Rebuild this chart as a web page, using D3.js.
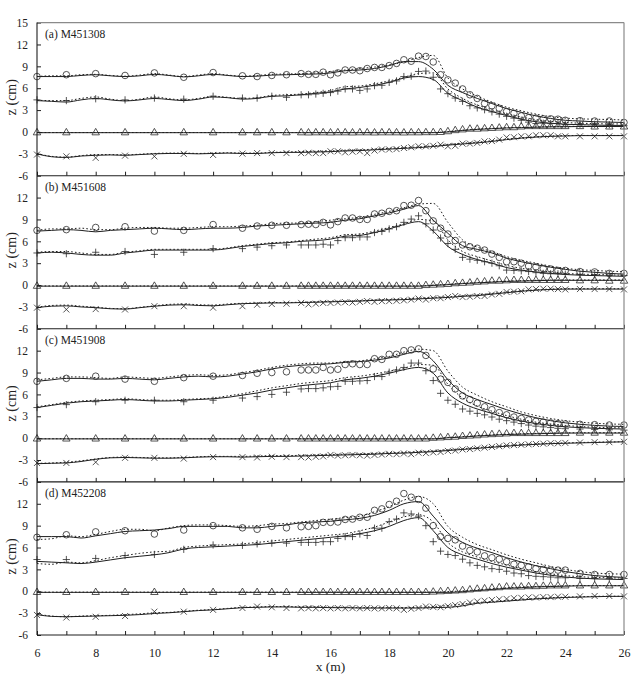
<!DOCTYPE html>
<html><head><meta charset="utf-8">
<script src="https://cdn.jsdelivr.net/npm/d3@7"></script>
<style>html,body{margin:0;padding:0;background:#fff;} svg{display:block;} text{font-family:"Liberation Serif","Times New Roman",serif;fill:#222;}</style>
</head><body><svg id="c" width="633" height="675"></svg>
<script>
// ---------- measurement x positions (m) ----------
const xObs = [6,7,8,9,10,11,12,13,13.5,14,14.5,15,15.25,15.5,15.75,16,16.25,16.5,16.75,17,17.25,17.5,17.75,18,18.25,18.5,18.75,19,19.25,19.5,19.75,20,20.25,20.5,20.75,21,21.25,21.5,21.75,22,22.25,22.5,22.75,23,23.25,23.5,23.75,24,24.5,25,25.5,26];
// ---------- model x positions (m) ----------
const xLine = [6,6.5,7,7.5,8,8.5,9,9.5,10,10.5,11,11.5,12,12.5,13,13.5,14,14.5,15,15.5,16,16.5,17,17.5,18,18.5,19,19.5,20,20.5,21,21.5,22,22.5,23,23.5,24,24.5,25,25.5,26];
const panelLabels = ["(a) M451308","(b) M451608","(c) M451908","(d) M452208"];
const yTicksTop = [-6,-3,0,3,6,9,12,15];
const yTicks = [-6,-3,0,3,6,9,12];
const xTickLabels = [6,8,10,12,14,16,18,20,22,24,26];

// ---------- panel (a) ----------
const a_circ = [7.6,7.85,8.0,7.75,8.1,7.5,8.15, 7.7,7.6,7.75,7.85, 8.0,7.9,7.9,8.2,7.85,8.1,8.5,8.5,8.4,8.7, 8.85,8.85,9.1,9.4,9.9,9.7,10.4,10.35,9.6,7.85, 7.15,6.7,5.9,5.1,4.6,3.9,3.6,3.25,2.8,2.55, 2.2,1.95,1.9,1.8,1.8,1.75,1.6, 1.55,1.5,1.5,1.3];
const a_plus = [4.4,4.3,4.55,4.4,4.65,4.5,4.9, 4.65,4.65,4.9,4.75, 5.1,5.1,5.2,5.3,5.4,5.6,5.9,5.9,5.7,5.9, 6.35,6.4,6.8,7.0,7.6,7.65,8.3,8.35,7.5,5.9, 5.25,4.65,4.2,3.6,3.3,3.05,2.75,2.45,2.15,1.9, 1.6,1.35,1.15,1.2,1.15,1.15,1.0, 1.05,1.05,1.0,0.85];
const a_tri = [-0.1,-0.1,-0.1,-0.1,-0.1,-0.1,-0.1,-0.1,-0.1,-0.1,-0.1, -0.1,-0.12,-0.1,-0.1,-0.12,-0.1,-0.1,-0.12,-0.1,-0.1,-0.12,-0.1,-0.1,-0.1,-0.12,-0.1,-0.1,-0.08,-0.08, -0.05,0.05,0.2,0.3,0.4,0.4,0.45,0.5,0.55,0.6,0.6,0.7,0.75,0.75,0.75,0.75,0.75,0.75, 0.75,0.7,0.7,0.7];
const a_cross = [-3.1,-3.35,-3.55,-3.25,-3.35,-3.0,-3.15, -2.97,-2.9,-2.9,-2.9, -2.9,-2.85,-2.9,-2.9,-2.65,-2.65,-2.8,-2.7,-2.65,-2.9, -2.55,-2.4,-2.4,-2.35,-2.2,-2.1,-1.97,-1.97,-1.9,-1.75, -1.97,-1.9,-1.6,-1.6,-1.5,-1.3,-1.25,-1.05,-0.75,-0.72, -0.6,-0.6,-0.45,-0.45,-0.45,-0.6,-0.6, -0.6,-0.6,-0.6,-0.6];
const a_circS = [7.6,7.6,7.6,7.75,7.85,7.7,7.6,7.7,7.9,7.75,7.55,7.7,7.9,7.75,7.6,7.65,7.8,7.85,7.9,7.95,8.1,8.4,8.5,8.7,9.1,9.65,9.65,8.6,6.4,5.4,4.6,3.9,3.2,2.7,2.2,1.85,1.6,1.5,1.4,1.35,1.3];
const a_circD = [7.6,7.7,7.7,7.85,7.9,7.75,7.65,7.8,8.0,7.8,7.6,7.8,8.0,7.8,7.65,7.75,7.9,7.95,8.0,8.1,8.3,8.5,8.7,8.9,9.2,9.6,10.2,10.5,7.4,5.9,4.9,4.1,3.4,2.9,2.45,2.1,1.9,1.8,1.75,1.7,1.65];
const a_plusS = [4.3,4.2,4.1,4.4,4.6,4.4,4.25,4.4,4.6,4.45,4.3,4.5,4.8,4.7,4.5,4.6,4.9,4.95,5.1,5.3,5.5,5.9,6.1,6.4,6.8,7.4,7.6,7.2,5.3,4.3,3.4,2.8,2.25,1.75,1.4,1.2,1.05,1.0,0.95,0.9,0.9];
const a_plusD = [4.35,4.3,4.3,4.6,4.8,4.5,4.3,4.5,4.8,4.55,4.4,4.6,4.9,4.75,4.6,4.7,5.0,5.1,5.2,5.4,5.7,6.2,6.3,6.6,7.0,7.5,8.0,8.1,5.9,4.6,3.7,3.05,2.5,2.05,1.7,1.45,1.3,1.2,1.15,1.1,1.1];
const a_triS = [-0.1,-0.1,-0.1,-0.1,-0.1,-0.1,-0.1,-0.1,-0.1,-0.1,-0.1,-0.1,-0.1,-0.1,-0.1,-0.1,-0.1,-0.1,-0.1,-0.1,-0.1,-0.1,-0.1,-0.1,-0.1,-0.1,-0.1,-0.1,0.0,0.2,0.35,0.45,0.55,0.6,0.65,0.7,0.72,0.75,0.75,0.75,0.75];
const a_triD = [-0.08,-0.08,-0.08,-0.08,-0.08,-0.08,-0.08,-0.08,-0.08,-0.08,-0.08,-0.08,-0.08,-0.08,-0.08,-0.08,-0.08,-0.08,-0.08,-0.08,-0.08,-0.08,-0.08,-0.08,-0.08,-0.08,-0.08,-0.08,0.05,0.25,0.4,0.5,0.58,0.63,0.68,0.72,0.75,0.78,0.78,0.78,0.78];
const a_crossS = [-3.0,-3.4,-3.5,-3.3,-3.2,-3.15,-3.2,-3.1,-3.0,-2.95,-2.95,-3.0,-2.95,-2.9,-2.95,-2.95,-2.85,-2.8,-2.8,-2.75,-2.7,-2.6,-2.55,-2.45,-2.35,-2.25,-2.15,-2.0,-1.8,-1.65,-1.5,-1.3,-1.05,-0.85,-0.7,-0.6,-0.55,-0.5,-0.5,-0.5,-0.5];
const a_crossD = [-2.95,-3.35,-3.45,-3.25,-3.1,-3.1,-3.15,-3.05,-2.95,-2.9,-2.9,-2.95,-2.9,-2.85,-2.9,-2.9,-2.8,-2.75,-2.7,-2.65,-2.6,-2.5,-2.45,-2.35,-2.25,-2.15,-2.05,-1.9,-1.7,-1.55,-1.4,-1.2,-0.98,-0.8,-0.65,-0.55,-0.5,-0.48,-0.48,-0.48,-0.48];

// ---------- panel (b) ----------
const b_circ = [7.5,7.6,7.9,8.0,7.4,7.5,8.3, 7.8,8.1,8.2,8.2, 8.3,8.35,8.3,8.6,8.25,8.7,9.2,9.2,9.0,9.0, 9.75,9.85,10.1,10.2,10.9,10.95,11.6,10.2,8.8,7.8, 7.0,6.1,5.5,5.25,5.05,4.8,4.25,3.8,3.2,3.2, 3.0,2.6,2.5,2.25,2.2,2.0,2.0, 1.85,1.8,1.6,1.6];
const b_plus = [4.4,4.3,4.5,4.6,4.2,4.5,5.0, 5.0,5.2,5.4,5.5, 5.5,5.5,5.5,5.6,5.5,6.1,6.5,6.5,6.6,6.6, 7.2,7.35,7.7,8.0,8.6,9.05,9.5,8.4,7.55,6.45, 5.7,4.9,3.8,3.55,3.4,3.2,3.0,2.65,2.05,2.0, 1.95,1.85,1.7,1.6,1.55,1.55,1.5, 1.45,1.4,1.35,1.3];
const b_tri = [-0.15,-0.15,-0.15,-0.15,-0.15,-0.15,-0.15,-0.15,-0.15,-0.15,-0.15, -0.15,-0.15,-0.15,-0.15,-0.15,-0.15,-0.15,-0.15,-0.15,-0.15,-0.15,-0.15,-0.15,-0.15,-0.15,-0.15,-0.15, -0.05,0.0,0.05,0.1,0.2,0.25,0.3,0.4,0.45,0.55,0.55,0.6, 0.65,0.65,0.65,0.65,0.65,0.65,0.65,0.65, 0.6,0.6,0.55,0.55];
const b_cross = [-3.1,-3.35,-3.3,-3.35,-2.9,-2.9,-3.1, -2.9,-2.7,-2.6,-2.55, -2.45,-2.65,-2.55,-2.45,-2.45,-2.4,-2.35,-2.4,-2.3,-2.2, -2.3,-2.2,-2.2,-2.15,-2.1,-2.0,-1.85,-2.0,-1.8,-1.8, -1.65,-1.5,-1.65,-1.6,-1.5,-1.5,-1.3,-1.2,-0.95,-0.9, -0.85,-0.6,-0.55,-0.5,-0.5,-0.55,-0.6, -0.55,-0.55,-0.55,-0.6];
const b_circS = [7.4,7.5,7.6,7.5,7.3,7.5,7.6,7.7,7.8,7.7,7.6,7.7,7.8,7.8,7.9,8.1,8.2,8.3,8.4,8.5,8.6,8.9,9.1,9.5,9.9,10.4,10.9,8.9,7.1,5.4,4.9,4.4,3.7,3.2,2.8,2.45,2.15,1.9,1.75,1.6,1.5];
const b_circD = [7.5,7.7,7.7,7.8,7.6,7.6,7.8,7.9,7.9,7.8,7.8,7.9,8.0,8.0,8.1,8.2,8.4,8.5,8.5,8.7,8.9,9.1,9.3,9.7,10.1,10.6,11.1,11.2,8.6,6.2,5.2,4.6,3.9,3.4,3.0,2.6,2.3,2.1,2.0,1.9,1.85];
const b_plusS = [4.4,4.5,4.4,4.2,4.1,4.1,4.4,4.6,4.8,4.8,4.8,4.8,4.8,5.0,5.3,5.5,5.7,5.8,6.0,6.1,6.3,6.7,6.8,7.2,7.7,8.3,8.7,7.4,5.3,4.2,3.5,3.0,2.4,2.05,1.8,1.6,1.45,1.35,1.3,1.25,1.2];
const b_plusD = [4.5,4.6,4.6,4.4,4.2,4.2,4.5,4.7,4.9,4.9,4.9,4.9,4.9,5.1,5.4,5.6,5.8,5.9,6.1,6.3,6.5,6.9,7.0,7.4,7.9,8.4,9.0,8.8,6.2,4.6,3.9,3.3,2.7,2.3,2.0,1.8,1.6,1.5,1.45,1.4,1.35];
const b_triS = [-0.15,-0.15,-0.15,-0.15,-0.15,-0.15,-0.15,-0.15,-0.15,-0.15,-0.15,-0.15,-0.15,-0.15,-0.15,-0.15,-0.15,-0.15,-0.15,-0.15,-0.15,-0.15,-0.15,-0.15,-0.15,-0.15,-0.15,-0.05,0.05,0.2,0.3,0.4,0.5,0.55,0.6,0.65,0.65,0.65,0.65,0.65,0.65];
const b_triD = [-0.12,-0.12,-0.12,-0.12,-0.12,-0.12,-0.12,-0.12,-0.12,-0.12,-0.12,-0.12,-0.12,-0.12,-0.12,-0.12,-0.12,-0.12,-0.12,-0.12,-0.12,-0.12,-0.12,-0.12,-0.12,-0.12,-0.12,0.0,0.1,0.25,0.35,0.45,0.55,0.6,0.65,0.68,0.7,0.7,0.7,0.7,0.7];
const b_crossS = [-3.1,-2.9,-2.85,-3.0,-3.1,-3.25,-3.3,-3.1,-2.9,-2.75,-2.7,-2.8,-2.85,-2.7,-2.55,-2.5,-2.45,-2.45,-2.4,-2.35,-2.3,-2.25,-2.2,-2.1,-2.05,-2.0,-1.9,-1.8,-1.7,-1.55,-1.45,-1.25,-1.05,-0.85,-0.7,-0.6,-0.55,-0.55,-0.55,-0.55,-0.55];
const b_crossD = [-3.05,-2.8,-2.75,-2.9,-3.05,-3.2,-3.25,-3.05,-2.85,-2.65,-2.6,-2.7,-2.75,-2.6,-2.5,-2.45,-2.4,-2.4,-2.35,-2.3,-2.25,-2.2,-2.15,-2.05,-2.0,-1.9,-1.8,-1.7,-1.6,-1.45,-1.35,-1.15,-0.95,-0.78,-0.65,-0.55,-0.5,-0.5,-0.5,-0.5,-0.5];

// ---------- panel (c) ----------
const c_circ = [7.8,8.2,8.5,8.1,7.8,8.3,8.5, 8.6,8.9,9.0,9.1, 9.35,9.35,9.35,9.7,9.35,9.45,10.1,10.2,10.1,10.1, 10.9,10.8,11.5,11.5,12.0,12.1,12.25,11.35,9.5,8.1, 7.65,6.75,5.8,5.3,4.8,4.3,3.9,3.5,3.2,2.9, 2.7,2.5,2.3,2.2,2.1,2.0,1.95, 1.9,1.85,1.8,1.8];
const c_plus = [4.2,4.6,5.0,5.2,5.2,5.0,5.2, 5.5,5.7,6.0,6.3, 6.75,6.8,6.8,6.9,7.05,7.1,7.8,7.8,7.85,7.9, 8.45,8.45,9.05,9.35,9.7,10.3,10.3,9.25,7.9,6.15, 5.2,4.65,4.0,3.7,3.4,3.2,2.9,2.6,2.4,2.2, 2.0,1.8,1.65,1.55,1.45,1.35,1.3, 1.25,1.2,1.15,1.1];
const c_tri = [-0.1,-0.1,-0.1,-0.1,-0.1,-0.1,-0.1,-0.1,-0.1,-0.1,-0.1, -0.1,-0.1,-0.1,-0.1,-0.1,-0.1,-0.1,-0.1,-0.1,-0.1,-0.1,-0.1,-0.1,-0.1,-0.1,-0.1,-0.1,-0.1, 0.0,0.05,0.1,0.15,0.25,0.3,0.35,0.45,0.5,0.55,0.6, 0.65,0.65,0.65,0.65,0.65,0.65,0.65,0.65, 0.7,0.7,0.7,0.7];
const c_cross = [-3.4,-3.4,-3.3,-2.7,-2.7,-2.8,-2.6, -2.6,-2.65,-2.55,-2.6, -2.6,-2.65,-2.55,-2.5,-2.3,-2.4,-2.35,-2.3,-2.35,-2.4, -2.3,-2.25,-2.15,-2.2,-2.1,-2.2,-2.0,-2.05,-1.95,-1.9, -1.75,-1.7,-1.55,-1.5,-1.4,-1.3,-1.2,-1.1,-1.0,-0.95, -0.9,-0.85,-0.8,-0.75,-0.7,-0.7,-0.65, -0.6,-0.55,-0.55,-0.5];
const c_circS = [7.8,8.0,8.2,8.2,8.1,8.1,8.2,8.1,8.0,8.2,8.4,8.5,8.4,8.5,8.8,9.1,9.5,9.8,10.0,10.1,10.2,10.4,10.5,10.7,11.0,11.5,11.9,10.6,8.0,6.2,5.3,4.6,3.9,3.3,2.8,2.4,2.1,1.9,1.75,1.65,1.6];
const c_circD = [8.0,8.2,8.4,8.4,8.3,8.2,8.4,8.3,8.2,8.4,8.6,8.7,8.6,8.7,9.0,9.3,9.7,10.0,10.2,10.3,10.3,10.5,10.6,10.9,11.2,11.8,12.2,12.0,9.2,7.0,5.9,5.0,4.3,3.6,3.1,2.7,2.4,2.2,2.05,1.95,1.9];
const c_plusS = [4.2,4.5,4.8,5.0,5.1,5.2,5.3,5.2,5.1,5.1,5.2,5.3,5.4,5.6,5.9,6.2,6.6,6.9,7.2,7.4,7.6,8.0,8.2,8.5,8.9,9.4,9.7,8.9,6.2,4.8,4.0,3.4,2.8,2.35,2.0,1.75,1.55,1.45,1.35,1.3,1.25];
const c_plusD = [4.3,4.6,4.9,5.1,5.2,5.3,5.4,5.3,5.2,5.2,5.3,5.4,5.5,5.8,6.1,6.5,6.9,7.2,7.5,7.7,7.9,8.3,8.5,8.8,9.2,9.6,10.1,10.0,7.4,5.5,4.4,3.7,3.1,2.6,2.2,1.95,1.75,1.6,1.5,1.45,1.4];
const c_triS = [-0.1,-0.1,-0.1,-0.1,-0.1,-0.1,-0.1,-0.1,-0.1,-0.1,-0.1,-0.1,-0.1,-0.1,-0.1,-0.1,-0.1,-0.1,-0.1,-0.1,-0.1,-0.1,-0.1,-0.1,-0.1,-0.1,-0.1,-0.1,0.05,0.15,0.3,0.4,0.5,0.55,0.6,0.65,0.7,0.7,0.7,0.7,0.7];
const c_triD = [-0.08,-0.08,-0.08,-0.08,-0.08,-0.08,-0.08,-0.08,-0.08,-0.08,-0.08,-0.08,-0.08,-0.08,-0.08,-0.08,-0.08,-0.08,-0.08,-0.08,-0.08,-0.08,-0.08,-0.08,-0.08,-0.08,-0.08,-0.08,0.1,0.22,0.35,0.45,0.55,0.6,0.65,0.7,0.72,0.75,0.75,0.75,0.75];
const c_crossS = [-3.5,-3.45,-3.4,-3.2,-2.9,-2.7,-2.65,-2.7,-2.75,-2.75,-2.7,-2.6,-2.55,-2.55,-2.6,-2.55,-2.5,-2.5,-2.45,-2.4,-2.35,-2.3,-2.25,-2.2,-2.1,-2.05,-1.95,-1.85,-1.7,-1.55,-1.4,-1.25,-1.1,-0.95,-0.85,-0.75,-0.7,-0.65,-0.6,-0.55,-0.5];
const c_crossD = [-3.45,-3.4,-3.3,-3.1,-2.85,-2.65,-2.6,-2.65,-2.7,-2.7,-2.65,-2.55,-2.5,-2.5,-2.5,-2.45,-2.4,-2.4,-2.35,-2.3,-2.25,-2.2,-2.15,-2.1,-2.0,-1.95,-1.85,-1.75,-1.6,-1.45,-1.3,-1.15,-1.0,-0.88,-0.78,-0.7,-0.65,-0.6,-0.55,-0.52,-0.5];

// ---------- panel (d) ----------
const d_circ = [7.4,7.75,8.15,8.3,7.85,8.4,9.0, 8.7,8.5,8.9,8.7, 8.85,8.9,9.0,9.45,9.45,9.5,9.85,9.9,10.15,10.15, 11.1,11.3,11.9,12.35,13.4,12.9,12.6,11.4,9.0,7.5, 7.25,7.05,6.2,5.6,5.4,4.85,4.6,4.4,4.05,3.7, 3.55,3.35,3.1,3.0,2.9,2.9,2.9, 2.45,2.3,2.3,2.3];
const d_plus = [4.35,4.35,4.5,4.9,5.05,5.75,6.35, 6.3,6.5,6.6,6.6, 6.7,6.7,6.7,6.8,6.8,7.25,7.5,7.5,7.85,7.65, 8.65,8.65,9.55,9.9,10.75,10.6,10.3,9.0,6.8,5.5, 5.05,4.9,4.4,3.9,3.55,3.35,3.1,3.0,2.75,2.5, 2.4,2.15,2.05,2.0,1.95,1.85,1.85, 1.75,1.75,1.75,1.75];
const d_tri = [-0.15,-0.15,-0.15,-0.15,-0.15,-0.15,-0.15,-0.15,-0.15,-0.15,-0.15, -0.15,-0.15,-0.15,-0.15,-0.15,-0.15,-0.15,-0.15,-0.15,-0.15,-0.15,-0.15,-0.15,-0.15,-0.15,-0.15,-0.15,-0.15, -0.1,-0.05,0.0,0.05,0.1,0.2,0.3,0.35,0.45,0.5,0.6,0.6,0.6,0.65,0.65,0.7, 0.75,0.75,0.75, 0.75,0.75,0.75,0.75];
const d_cross = [-3.25,-3.6,-3.5,-3.4,-2.8,-2.8,-2.55, -2.3,-2.1,-2.2,-2.3, -2.35,-2.3,-2.35,-2.3,-2.35,-2.3,-2.35,-2.3,-2.35,-2.3, -2.35,-2.35,-2.3,-2.35,-2.55,-2.4,-2.3,-2.1,-2.15,-2.2, -2.05,-1.9,-1.75,-1.55,-1.4,-1.3,-1.2,-1.1,-1.05,-0.95, -0.9,-0.85,-0.85,-0.8,-0.8,-0.75,-0.75, -0.7,-0.65,-0.65,-0.7];
const d_circS = [7.5,7.5,7.5,7.3,7.6,7.9,8.2,8.3,8.4,8.6,8.9,8.9,8.9,8.9,8.7,8.7,8.9,9.1,9.4,9.5,9.6,9.8,10.0,10.4,11.1,12.0,12.3,10.3,8.0,6.7,5.9,5.3,4.6,4.0,3.5,3.1,2.7,2.4,2.15,2.0,1.9];
const d_circD = [7.1,7.2,7.6,7.5,7.8,8.2,8.5,8.5,8.3,8.7,9.0,9.1,9.1,9.0,8.9,9.0,9.2,9.3,9.5,9.7,9.9,10.1,10.3,10.9,11.6,12.5,13.0,12.0,8.9,7.4,6.4,5.7,5.0,4.4,3.9,3.4,3.0,2.7,2.5,2.4,2.35];
const d_plusS = [4.1,4.0,3.9,3.8,4.0,4.3,4.6,4.8,5.0,5.3,5.8,6.0,6.1,6.2,6.3,6.4,6.6,6.8,7.0,7.2,7.4,7.6,7.9,8.3,8.9,9.7,10.1,8.3,6.0,5.0,4.4,3.8,3.3,2.9,2.5,2.2,1.95,1.8,1.7,1.65,1.6];
const d_plusD = [3.8,3.7,4.0,3.9,4.2,4.6,4.9,5.2,5.4,5.5,6.0,6.2,6.3,6.4,6.5,6.7,6.9,7.1,7.3,7.5,7.7,7.9,8.3,8.8,9.5,10.2,10.5,9.5,6.7,5.4,4.7,4.1,3.6,3.1,2.7,2.4,2.15,2.0,1.9,1.85,1.8];
const d_triS = [-0.15,-0.15,-0.15,-0.15,-0.15,-0.15,-0.15,-0.15,-0.15,-0.15,-0.15,-0.15,-0.15,-0.15,-0.15,-0.15,-0.15,-0.15,-0.15,-0.15,-0.15,-0.15,-0.15,-0.15,-0.15,-0.15,-0.15,-0.15,-0.15,-0.05,0.1,0.25,0.4,0.5,0.6,0.65,0.7,0.75,0.75,0.75,0.75];
const d_triD = [-0.12,-0.12,-0.12,-0.12,-0.12,-0.12,-0.12,-0.12,-0.12,-0.12,-0.12,-0.12,-0.12,-0.12,-0.12,-0.12,-0.12,-0.12,-0.12,-0.12,-0.12,-0.12,-0.12,-0.12,-0.12,-0.12,-0.12,-0.12,-0.05,0.05,0.2,0.35,0.48,0.58,0.65,0.7,0.75,0.78,0.78,0.78,0.78];
const d_crossS = [-3.2,-3.45,-3.5,-3.45,-3.4,-3.35,-3.3,-3.2,-3.05,-2.95,-2.8,-2.65,-2.55,-2.4,-2.25,-2.2,-2.15,-2.15,-2.2,-2.2,-2.25,-2.25,-2.3,-2.3,-2.3,-2.3,-2.3,-2.25,-2.2,-2.0,-1.65,-1.5,-1.35,-1.2,-1.05,-0.95,-0.85,-0.8,-0.75,-0.7,-0.7];
const d_crossD = [-3.15,-3.4,-3.5,-3.4,-3.35,-3.3,-3.2,-3.1,-2.95,-2.9,-2.75,-2.6,-2.5,-2.35,-2.2,-2.15,-2.1,-2.1,-2.15,-2.15,-2.2,-2.2,-2.25,-2.25,-2.25,-2.25,-2.2,-2.1,-1.95,-1.75,-1.55,-1.4,-1.25,-1.1,-0.98,-0.88,-0.8,-0.75,-0.7,-0.68,-0.68];

const panelData = [
  {marks:[a_circ,a_plus,a_tri,a_cross], solid:[a_circS,a_plusS,a_triS,a_crossS], dotted:[a_circD,a_plusD,a_triD,a_crossD]},
  {marks:[b_circ,b_plus,b_tri,b_cross], solid:[b_circS,b_plusS,b_triS,b_crossS], dotted:[b_circD,b_plusD,b_triD,b_crossD]},
  {marks:[c_circ,c_plus,c_tri,c_cross], solid:[c_circS,c_plusS,c_triS,c_crossS], dotted:[c_circD,c_plusD,c_triD,c_crossD]},
  {marks:[d_circ,d_plus,d_tri,d_cross], solid:[d_circS,d_plusS,d_triS,d_crossS], dotted:[d_circD,d_plusD,d_triD,d_crossD]}
];

// ---------- drawing ----------
const svg = d3.select("#c");
const left = 37, right = 624, top0 = 22.6, panelH = 153.1;
const ink = "#1e1e1e";
const x = d3.scaleLinear().domain([6,26]).range([left,right]);

const markerPaths = [
  d3.symbol(d3.symbolCircle, 34)(),
  "M-3.6,0H3.6M0,-3.6V3.6",
  d3.symbol(d3.symbolTriangle, 24)(),
  "M-3,-3L3,3M-3,3L3,-3"
];

panelData.forEach((p,i)=>{
  const y0 = top0 + i*panelH;
  const y = d3.scaleLinear().domain([-6,15]).range([y0+panelH, y0]);
  const g = svg.append("g");
  const line = d3.line().x((d,j)=>x(xLine[j])).y(d=>y(d)).curve(d3.curveMonotoneX);

  // model lines
  p.solid.forEach(s=>{
    g.append("path").attr("d", line(s)).attr("fill","none").attr("stroke",ink).attr("stroke-width",1);
  });
  p.dotted.forEach(s=>{
    g.append("path").attr("d", line(s)).attr("fill","none").attr("stroke",ink).attr("stroke-width",1)
      .attr("stroke-dasharray","1.6,2.2");
  });
  // measured markers
  p.marks.forEach((s,k)=>{
    g.selectAll(null).data(s).join("path")
      .attr("transform",(d,j)=>`translate(${x(xObs[j])},${y(d)})`)
      .attr("d", markerPaths[k]).attr("fill","none").attr("stroke","#2a2a2a").attr("stroke-width",0.8);
  });

  // y axis
  const ya = d3.axisLeft(y).tickValues(i===0?yTicksTop:yTicks).tickSize(-4).tickSizeOuter(0).tickPadding(9)
    .tickFormat(d=>String(d));
  const yg = svg.append("g").attr("transform",`translate(${left},0)`).call(ya);
  yg.select(".domain").remove();
  yg.selectAll("text").style("font-size","11.5px").style("font-family",'"Liberation Serif",serif').attr("fill",ink);
  yg.selectAll("line").attr("stroke",ink);

  // x axis at panel bottom (ticks inward)
  const xa = d3.axisBottom(x).tickValues(d3.range(6,27,1)).tickSize(-4).tickSizeOuter(0).tickPadding(13)
    .tickFormat(d=> (i===3 && xTickLabels.includes(d)) ? String(d) : "");
  const xg = svg.append("g").attr("transform",`translate(0,${y0+panelH})`).call(xa);
  xg.select(".domain").remove();
  xg.selectAll("text").style("font-size","12px").style("font-family",'"Liberation Serif",serif').attr("fill",ink);
  xg.selectAll("line").attr("stroke",ink);
  svg.append("line").attr("x1",left).attr("x2",right).attr("y1",y0+panelH).attr("y2",y0+panelH)
    .attr("stroke",ink).attr("stroke-width",1.1);

  // panel label
  svg.append("text").attr("x",45).attr("y",y0+15).style("font-size","11.5px").text(panelLabels[i]);
  // y title
  svg.append("text").attr("transform",`translate(16,${y0+panelH/2-2}) rotate(-90)`)
    .attr("text-anchor","middle").style("font-size","14px").text("z (cm)");
});

// frame
const bottom = top0 + 4*panelH;
svg.append("line").attr("x1",left).attr("x2",right).attr("y1",top0).attr("y2",top0).attr("stroke","#8a8a8a").attr("stroke-width",1.2);
svg.append("line").attr("x1",right).attr("x2",right).attr("y1",top0).attr("y2",bottom).attr("stroke","#8a8a8a").attr("stroke-width",1.2);
svg.append("line").attr("x1",left).attr("x2",left).attr("y1",top0).attr("y2",bottom).attr("stroke",ink).attr("stroke-width",1.1);

svg.append("text").attr("x",(left+right)/2).attr("y",671).attr("text-anchor","middle").style("font-size","13.5px").text("x (m)");
</script>
</body></html>
